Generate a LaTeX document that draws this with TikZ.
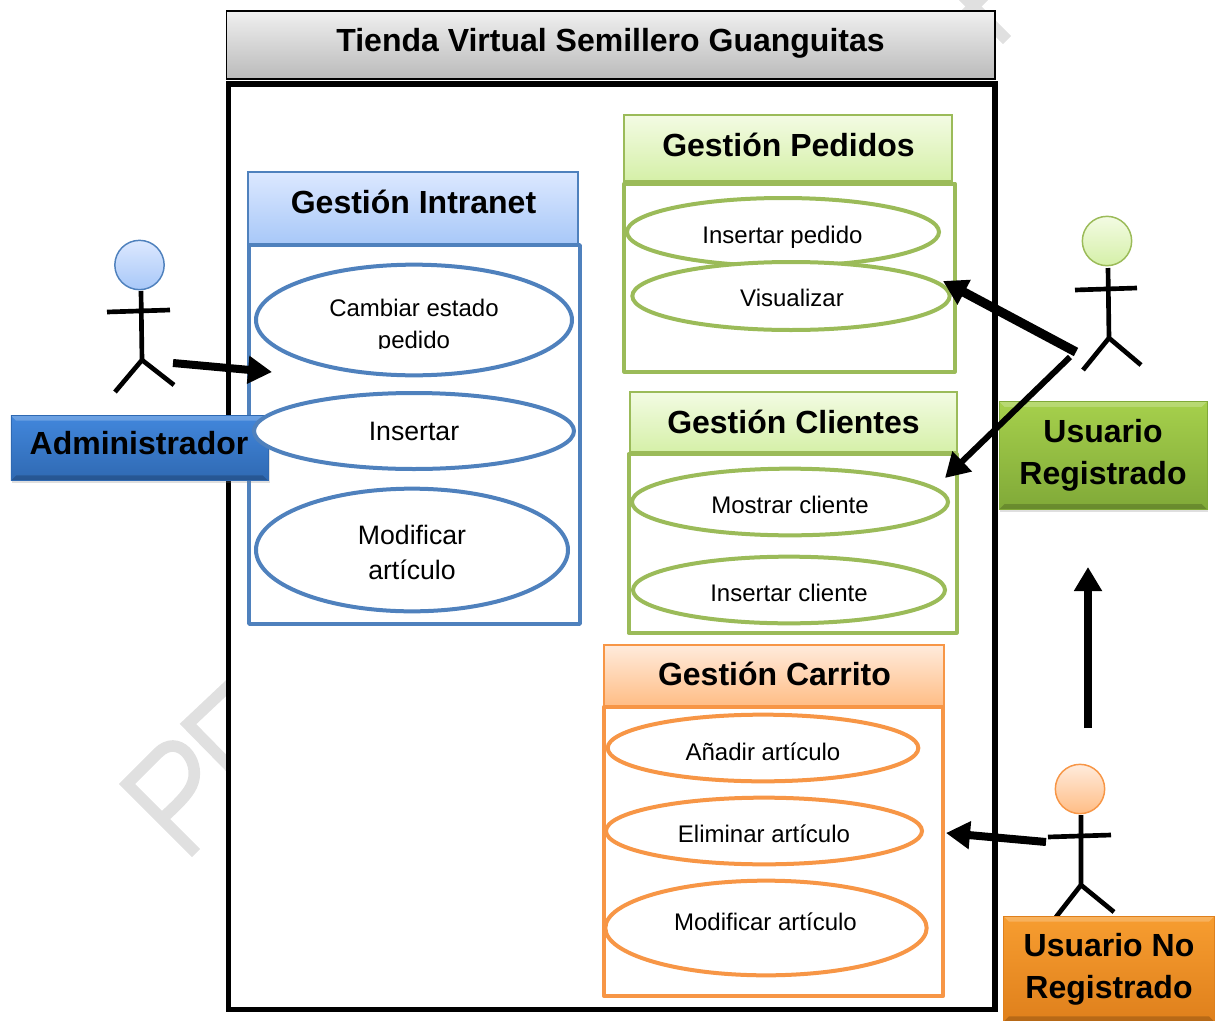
\documentclass[tikz,border=0pt]{standalone}
\usepackage{fontspec}
\setmainfont{Liberation Sans}
\usetikzlibrary{shapes.geometric,arrows.meta,shadows}
\definecolor{bluel}{HTML}{4F81BD}
\definecolor{greenl}{HTML}{9BBB59}
\definecolor{orangel}{HTML}{F79646}
\definecolor{bluetop}{HTML}{DCE8FF}
\definecolor{bluebot}{HTML}{A8C8F8}
\definecolor{greentop}{HTML}{F3FBE3}
\definecolor{greenbot}{HTML}{D5F0A8}
\definecolor{orangetop}{HTML}{FFEBDC}
\definecolor{orangebot}{HTML}{FFBD85}
\definecolor{roleblueA}{HTML}{4287DC}
\definecolor{roleblueB}{HTML}{2F69B2}
\definecolor{rolegreenA}{HTML}{A6D04C}
\definecolor{rolegreenB}{HTML}{80A938}
\definecolor{roleorangeA}{HTML}{F79D30}
\definecolor{roleorangeB}{HTML}{DF801C}
\tikzset{
  x=0.75pt,y=-0.75pt,
  hdr/.style={font=\bfseries\fontsize{24}{28}\selectfont,inner sep=0pt},
  bluehdr/.style={draw=bluel,line width=1.5pt,top color=bluetop,bottom color=bluebot},
  greenhdr/.style={draw=greenl,line width=1.5pt,top color=greentop,bottom color=greenbot},
  orangehdr/.style={draw=orangel,line width=1.5pt,top color=orangetop,bottom color=orangebot},
  panel/.style={line width=3pt,line join=round},
  uc/.style={ellipse,draw,fill=white,line width=3pt,inner sep=0pt,align=center},
  uctext/.style={font=\fontsize{18}{24}\selectfont},
  uctextb/.style={font=\fontsize{20}{26}\selectfont},
  actorline/.style={line width=3.5pt,draw=black},
  flow/.style={draw=black,-{Triangle[length=18pt,width=20pt]}},
  head/.style={circle,draw,line width=1.1pt,minimum size=37pt,inner sep=0pt},
  rolebox/.style={font=\bfseries\fontsize{24}{31.5}\selectfont,align=center,line width=.5pt,drop shadow={shadow xshift=1pt,shadow yshift=-1.5pt,opacity=.25},
    path picture={
      \fill[white,opacity=.22] (path picture bounding box.north west) -- (path picture bounding box.north east) -- ([xshift=-4pt,yshift=-4pt]path picture bounding box.north east) -- ([xshift=4pt,yshift=-4pt]path picture bounding box.north west) -- cycle;
      \fill[black,opacity=.18] (path picture bounding box.south west) -- (path picture bounding box.south east) -- ([xshift=-4pt,yshift=4pt]path picture bounding box.south east) -- ([xshift=4pt,yshift=4pt]path picture bounding box.south west) -- cycle;
    }},
  wm/.style={draw=black!12,line width=8.7pt,line join=miter}
}
\begin{document}
\begin{tikzpicture}
\useasboundingbox (0,0) rectangle (1215,1021);
% watermark fragments
\draw[wm] (196,853)--(127,784)--(158,753) .. controls (178,733) and (200,760) .. (193,782) .. controls (190,792) and (180,802) .. (166,815);
\draw[wm] (240,777)--(188,724)--(240,675);
\draw[wm] (1007,40)--(958,-9);
\draw[wm] (992,-12)--(950,30);

% title and frame
\node[draw=black,line width=1pt,top color=black!6,bottom color=black!27,minimum width=576.5pt,minimum height=51pt,inner sep=0pt] (title) at (610.5,45) {};
\node[font=\bfseries\fontsize{24}{28}\selectfont] (titletext) at (610.5,43) {Tienda Virtual Semillero Guanguitas};
\node[draw=black,fill=white,line width=4pt,minimum width=575pt,minimum height=694pt,inner sep=0pt] (frame) at (611.5,546.5) {};

% Intranet
\node[panel,draw=bluel,minimum width=248pt,minimum height=284pt,inner sep=0pt] (intranet) at (414.5,434.5) {};
\node[bluehdr,hdr,minimum width=247pt,minimum height=54pt] (intranethdr) at (413,208) {};
\node[hdr] (intranettext) at (413.5,202) {Gestión Intranet};

% Pedidos
\node[panel,draw=greenl,minimum width=248pt,minimum height=141pt,inner sep=0pt] (pedidos) at (789.5,277.5) {};
\node[greenhdr,hdr,minimum width=246pt,minimum height=49pt] (pedidoshdr) at (788,148) {};
\node[hdr] (pedidostext) at (788.5,145) {Gestión Pedidos};

% Clientes
\node[panel,draw=greenl,minimum width=246pt,minimum height=134pt,inner sep=0pt] (clientes) at (792.5,543.5) {};
\node[greenhdr,hdr,minimum width=245pt,minimum height=45pt] (clienteshdr) at (793.5,422) {};
\node[hdr] (clientestext) at (793.5,422) {Gestión Clientes};

% Carrito
\node[panel,draw=orangel,minimum width=254pt,minimum height=217pt,inner sep=0pt] (carrito) at (773.5,851.5) {};
\node[orangehdr,hdr,minimum width=255pt,minimum height=46pt] (carritohdr) at (774,675.5) {};
\node[hdr] (carritotext) at (774.5,674) {Gestión Carrito};

% administrator box goes under the Insertar ellipse
\node[rolebox,draw=roleblueB,top color=roleblueA,bottom color=roleblueB,minimum width=193pt,minimum height=49pt,inner sep=0pt] (adminbox) at (139.5,448) {};
\node[font=\bfseries\fontsize{24}{28}\selectfont] (admintext) at (139,443) {Administrador};

% use cases: Intranet
\node[uc,draw=bluel,minimum width=237pt,minimum height=83pt] (u1) at (414,320) {};
\begin{scope}
\clip (300,285) rectangle (530,348);
\node[uctext,align=center] (u1text) at (414,326) {Cambiar estado\\pedido};
\end{scope}
\node[uc,draw=bluel,uctextb,minimum width=240pt,minimum height=57pt] (u2) at (414,431) {Insertar};
\node[uc,draw=bluel,minimum width=234pt,minimum height=92pt] (u3) at (412,550) {};
\node[uctextb,align=center,font=\fontsize{20}{26.5}\selectfont] (u3text) at (412,552.5) {Modificar\\artículo};

% use cases: Pedidos
\node[uc,draw=greenl,minimum width=234pt,minimum height=51pt] (p1) at (783,232) {};
\node[uctext] (p1text) at (782.5,237) {Insertar pedido};
\node[uc,draw=greenl,minimum width=238pt,minimum height=51pt] (p2) at (791,296) {};
\node[uctext] (p2text) at (792,298) {Visualizar};

% use cases: Clientes
\node[uc,draw=greenl,minimum width=237pt,minimum height=50pt] (c1) at (790,502) {};
\node[uctext] (c1text) at (790,505) {Mostrar cliente};
\node[uc,draw=greenl,minimum width=234pt,minimum height=50pt] (c2) at (789,590) {};
\node[uctext] (c2text) at (789,593) {Insertar cliente};

% use cases: Carrito
\node[uc,draw=orangel,minimum width=233pt,minimum height=50pt] (k1) at (763,748) {};
\node[uctext] (k1text) at (763,752) {Añadir artículo};
\node[uc,draw=orangel,minimum width=237pt,minimum height=50pt] (k2) at (764,831) {};
\node[uctext] (k2text) at (764,834) {Eliminar artículo};
\node[uc,draw=orangel,minimum width=241pt,minimum height=71pt] (k3) at (766,928) {};
\node[uctext] (k3text) at (765.5,922) {Modificar artículo};

% role boxes
\node[rolebox,draw=rolegreenB,top color=rolegreenA,bottom color=rolegreenB,minimum width=156pt,minimum height=81pt,inner sep=0pt] (regbox) at (1103,455.5) {Usuario\\Registrado};
% actors
\node[head,draw=bluel,top color=bluetop,bottom color=bluebot] (ahead) at (139.5,265) {};
\coordinate (aneck) at (141,291); \coordinate (ahip) at (142,360);
\coordinate (aarmL) at (107,312); \coordinate (aarmR) at (170,310);
\coordinate (alegL) at (115,392); \coordinate (alegR) at (174,385);
\draw[actorline] (aneck)--(ahip) (aarmL)--(aarmR) (alegL)--(ahip)--(alegR);

\node[head,draw=greenl,top color=greentop,bottom color=greenbot] (rhead) at (1107,241) {};
\coordinate (rneck) at (1108,268); \coordinate (rhip) at (1109,338);
\coordinate (rarmL) at (1075,290); \coordinate (rarmR) at (1137,288);
\coordinate (rlegL) at (1083,370); \coordinate (rlegR) at (1141,365);
\draw[actorline] (rneck)--(rhip) (rarmL)--(rarmR) (rlegL)--(rhip)--(rlegR);

\node[head,draw=orangel,top color=orangetop,bottom color=orangebot] (nhead) at (1080,789) {};
\coordinate (nneck) at (1081,815); \coordinate (nhip) at (1081,885);
\coordinate (narmL) at (1048,837); \coordinate (narmR) at (1111,835);
\coordinate (nlegL) at (1056,917); \coordinate (nlegR) at (1114,912);
\draw[actorline] (nneck)--(nhip) (narmL)--(narmR) (nlegL)--(nhip)--(nlegR);
\node[rolebox,draw=roleorangeB,top color=roleorangeA,bottom color=roleorangeB,minimum width=158pt,minimum height=79pt,inner sep=0pt] (noregbox) at (1109,969) {Usuario No\\Registrado};

% connectors
\coordinate (f1s) at (173,363); \coordinate (f1e) at (272,372);
\coordinate (f2s) at (1076,352); \coordinate (f2e) at (943,281);
\coordinate (f3s) at (1070,357); \coordinate (f3e) at (945,478);
\coordinate (f4s) at (1088,728); \coordinate (f4e) at (1088,567);
\coordinate (f5s) at (1046,842); \coordinate (f5e) at (946,833);
\draw[flow,line width=6pt] (f1s)--(f1e);
\draw[flow,line width=7pt] (f2s)--(f2e);
\draw[flow,line width=4.5pt] (f3s)--(f3e);
\draw[flow,line width=5.5pt] (f4s)--(f4e);
\draw[flow,line width=6pt] (f5s)--(f5e);
\end{tikzpicture}
\end{document}
